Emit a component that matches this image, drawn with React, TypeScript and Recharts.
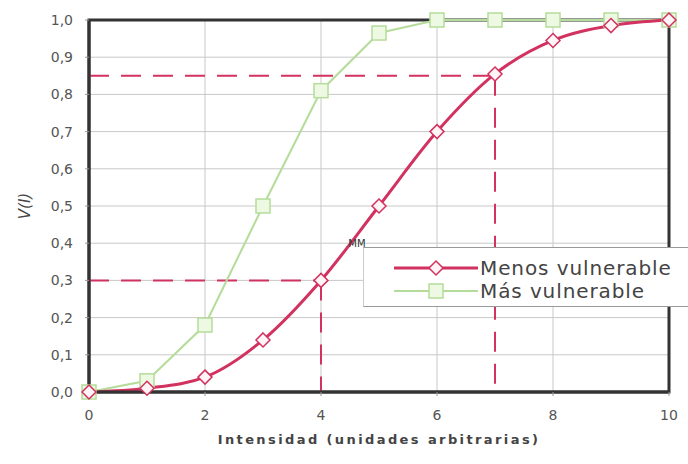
import React from 'react';
import {
  LineChart, Line, XAxis, YAxis, CartesianGrid, ReferenceLine, ReferenceArea, ReferenceDot, Legend,
} from 'recharts';

const intensities = [0, 1, 2, 3, 4, 5, 6, 7, 8, 9, 10];
const menosVulnerable = [0, 0.01, 0.04, 0.14, 0.3, 0.5, 0.7, 0.855, 0.945, 0.985, 1.0];
const masVulnerable = [0, 0.03, 0.18, 0.5, 0.81, 0.965, 1.0, 1.0, 1.0, 1.0, 1.0];
const xTicks = [0, 2, 4, 6, 8, 10];
const yTicks = [0, 0.1, 0.2, 0.3, 0.4, 0.5, 0.6, 0.7, 0.8, 0.9, 1.0];

const data = intensities.map((x, i) => ({ x, menos: menosVulnerable[i], mas: masVulnerable[i] }));

const RED = '#d2325f';
const GREEN = '#b5dc9a';
const FONT = 'DejaVu Sans, Verdana, sans-serif';

const Diamond = (props: any) => {
  const { cx, cy } = props;
  if (cx == null || cy == null) return null;
  const s = 7;
  return (
    <polygon
      points={`${cx},${cy - s} ${cx + s},${cy} ${cx},${cy + s} ${cx - s},${cy}`}
      fill="#fff5f7"
      stroke={RED}
      strokeWidth={1.5}
    />
  );
};

const Square = (props: any) => {
  const { cx, cy } = props;
  if (cx == null || cy == null) return null;
  const s = 7;
  return <rect x={cx - s} y={cy - s} width={2 * s} height={2 * s} fill="#eef9e4" stroke={GREEN} strokeWidth={1.5} />;
};

const LegendBox = () => (
  <div
    style={{
      width: 325,
      height: 60,
      background: '#fff',
      borderTop: '1px solid #999',
      borderLeft: '1px solid #ccc',
      borderBottom: '1px solid #999',
      fontFamily: FONT,
      fontSize: 20,
      letterSpacing: 0.9,
      color: '#444',
      boxSizing: 'border-box',
      paddingTop: 8,
      whiteSpace: 'nowrap',
    }}
  >
    <div style={{ display: 'flex', alignItems: 'center', height: 23 }}>
      <svg width={116} height={24}>
        <line x1={30} y1={12} x2={114} y2={12} stroke={RED} strokeWidth={3} />
        <polygon points="72,5 79,12 72,19 65,12" fill="#fff5f7" stroke={RED} strokeWidth={1.5} />
      </svg>
      <span>Menos vulnerable</span>
    </div>
    <div style={{ display: 'flex', alignItems: 'center', height: 23 }}>
      <svg width={116} height={24}>
        <line x1={30} y1={12} x2={114} y2={12} stroke={GREEN} strokeWidth={2} />
        <rect x={65} y={5} width={14} height={14} fill="#eef9e4" stroke={GREEN} strokeWidth={1.5} />
      </svg>
      <span>Más vulnerable</span>
    </div>
  </div>
);

const fmt = (v: number) => v.toFixed(1).replace('.', ',');

export default function App() {
  return (
    <div style={{ position: 'absolute', left: 0, top: 0, background: '#fff' }}>
      <LineChart width={688} height={464} data={data} margin={{ top: 20, right: 19, left: 39, bottom: 32 }}>
        <CartesianGrid stroke="#c8c8c8" strokeWidth={1} />
        <XAxis
          dataKey="x"
          type="number"
          domain={[0, 10]}
          ticks={xTicks}
          height={40}
          tickSize={4}
          tickMargin={14}
          axisLine={{ stroke: '#333', strokeWidth: 3 }}
          tickLine={{ stroke: '#999' }}
          tick={{ fill: '#555', fontSize: 14, fontFamily: FONT }}
          label={{
            value: 'Intensidad (unidades arbitrarias)',
            position: 'insideBottom',
            offset: -12,
            fill: '#444',
            style: { fill: '#444', fontSize: 13, fontWeight: 'bold', letterSpacing: 2.4, fontFamily: FONT },
          }}
        />
        <YAxis
          type="number"
          domain={[0, 1]}
          ticks={yTicks}
          width={50}
          tickSize={4}
          tickMargin={12}
          tickFormatter={fmt}
          axisLine={{ stroke: '#333', strokeWidth: 3 }}
          tickLine={{ stroke: '#999' }}
          tick={{ fill: '#555', fontSize: 14, fontFamily: FONT }}
          label={{
            value: 'V(I)',
            angle: -90,
            position: 'insideLeft',
            offset: -14,
            fill: '#444',
            style: { fill: '#444', fontSize: 15, fontStyle: 'italic', fontFamily: FONT, textAnchor: 'middle' },
          }}
        />
        <ReferenceArea x1={0} x2={10} y1={0} y2={1} fill="none" stroke="#333" strokeWidth={3} ifOverflow="visible" />
        <ReferenceLine segment={[{ x: 0, y: 0.85 }, { x: 7, y: 0.85 }]} stroke={RED} strokeWidth={2} strokeDasharray="20 12" />
        <ReferenceLine segment={[{ x: 7, y: 0.85 }, { x: 7, y: 0 }]} stroke={RED} strokeWidth={2} strokeDasharray="20 12" />
        <ReferenceLine segment={[{ x: 0, y: 0.3 }, { x: 4, y: 0.3 }]} stroke={RED} strokeWidth={2} strokeDasharray="20 12" />
        <ReferenceLine segment={[{ x: 4, y: 0.3 }, { x: 4, y: 0 }]} stroke={RED} strokeWidth={2} strokeDasharray="20 12" />
        <Line
          type="linear"
          dataKey="mas"
          stroke={GREEN}
          strokeWidth={2}
          dot={<Square />}
          isAnimationActive={false}
        />
        <Line
          type="monotone"
          dataKey="menos"
          stroke={RED}
          strokeWidth={3}
          dot={<Diamond />}
          isAnimationActive={false}
        />
        <ReferenceDot
          x={4.62}
          y={0.4}
          r={0}
          ifOverflow="visible"
          label={{ value: 'MM', position: 'center', fill: '#333', fontSize: 10, fontFamily: FONT }}
        />
        <Legend
          layout="vertical"
          align="center"
          verticalAlign="middle"
          content={() => <LegendBox />}
          wrapperStyle={{ position: 'absolute', left: 363, top: 247, width: 325, height: 60 }}
        />
      </LineChart>
    </div>
  );
}
